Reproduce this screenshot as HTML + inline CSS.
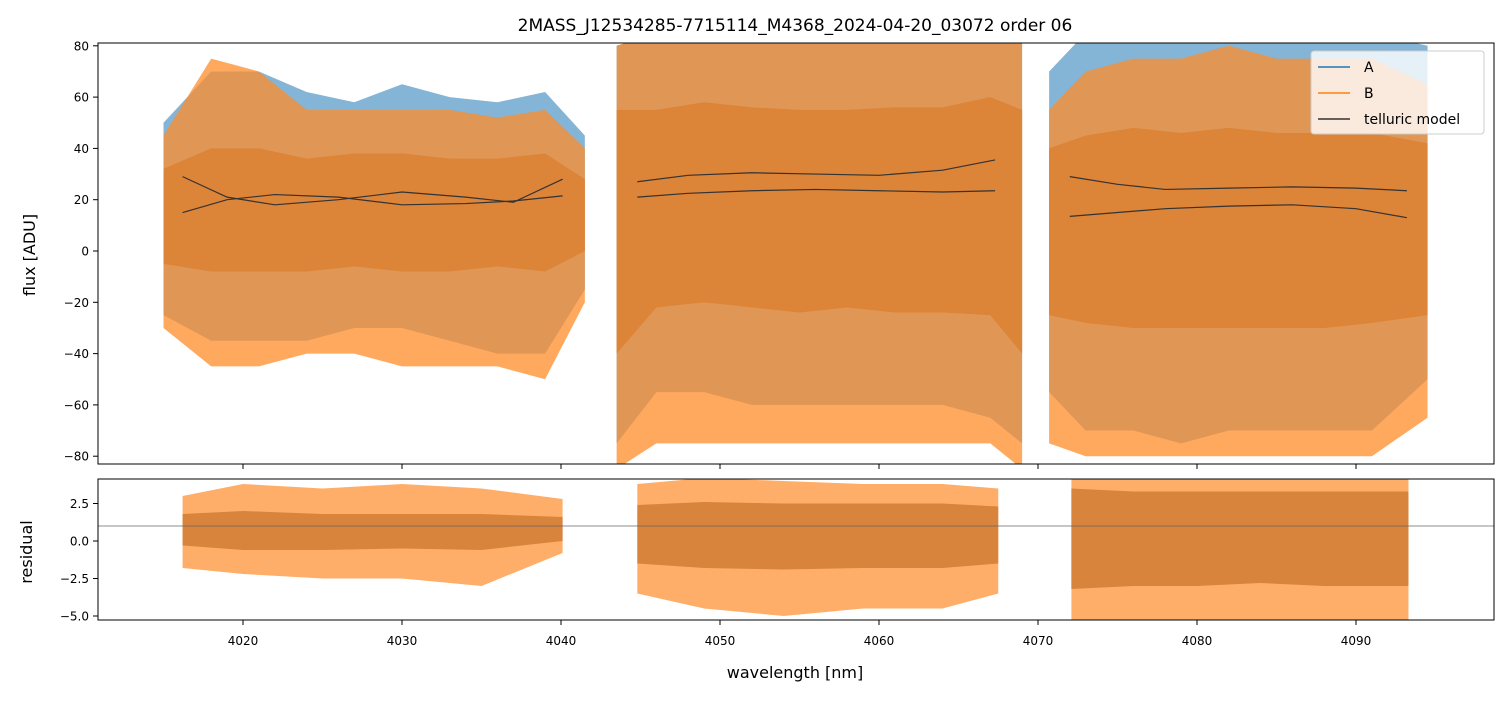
<!DOCTYPE html>
<html><head><meta charset="utf-8"><style>
body{margin:0;background:#fff}
text{font-family:"DejaVu Sans","Liberation Sans",sans-serif;fill:#000}
</style></head><body>
<svg id="c" width="1508" height="696" xmlns="http://www.w3.org/2000/svg">
<text x="795" y="31" font-size="17" text-anchor="middle">2MASS_J12534285-7715114_M4368_2024-04-20_03072  order 06</text>
<text transform="translate(35,255) rotate(-90)" font-size="16" text-anchor="middle">flux [ADU]</text>
<text transform="translate(32,552) rotate(-90)" font-size="16" text-anchor="middle">residual</text>
<text x="795" y="678" font-size="16" text-anchor="middle">wavelength [nm]</text>
<defs><clipPath id="cm"><rect x="98" y="43" width="1396" height="421"/></clipPath><clipPath id="cr"><rect x="98" y="479" width="1396" height="141"/></clipPath></defs>
<g id="main" clip-path="url(#cm)"></g>
<g id="res" clip-path="url(#cr)"></g>
<rect x="98" y="43" width="1396" height="421" fill="none" stroke="#000" stroke-width="1"/>
<rect x="98" y="479" width="1396" height="141" fill="none" stroke="#000" stroke-width="1"/>
<g id="ax"></g>
<g>
<rect x="1311" y="51" width="173" height="83" rx="3" fill="#fff" fill-opacity="0.8" stroke="#ccc"/>
<line x1="1318" y1="67" x2="1350" y2="67" stroke="#1f77b4" stroke-width="1.5"/>
<text x="1364" y="72" font-size="14">A</text>
<line x1="1318" y1="93" x2="1350" y2="93" stroke="#ff7f0e" stroke-width="1.5"/>
<text x="1364" y="98" font-size="14">B</text>
<line x1="1318" y1="119" x2="1350" y2="119" stroke="#333" stroke-width="1.5"/>
<text x="1364" y="124" font-size="14">telluric model</text>
</g>
</svg>
<script>
// axis ticks
const xTicks=[4020,4030,4040,4050,4060,4070,4080,4090];
const yTicks=[80,60,40,20,0,-20,-40,-60,-80];
const rTicks=[2.5,0.0,-2.5,-5.0];
// main segments: wavelength bins and envelopes
const segWl=[[4015,4018,4021,4024,4027,4030,4033,4036,4039,4041.5],[4043.5,4046,4049,4052,4055,4058,4061,4064,4067,4069],[4070.7,4073,4076,4079,4082,4085,4088,4091,4094.5]];
const aHi=[[50,70,70,62,58,65,60,58,62,45],[80,85,85,85,85,85,85,85,85,85],[70,85,85,85,85,85,85,85,80]];
const aLo=[[-25,-35,-35,-35,-30,-30,-35,-40,-40,-15],[-75,-55,-55,-60,-60,-60,-60,-60,-65,-75],[-55,-70,-70,-75,-70,-70,-70,-70,-50]];
const bHi=[[45,75,70,55,55,55,55,52,55,40],[80,85,85,85,85,85,85,85,85,85],[55,70,75,75,80,75,75,75,65]];
const bLo=[[-30,-45,-45,-40,-40,-45,-45,-45,-50,-20],[-85,-75,-75,-75,-75,-75,-75,-75,-75,-85],[-75,-80,-80,-80,-80,-80,-80,-80,-65]];
const coreHi=[[32,40,40,36,38,38,36,36,38,28],[55,55,58,56,55,55,56,56,60,55],[40,45,48,46,48,46,46,46,42]];
const coreLo=[[-5,-8,-8,-8,-6,-8,-8,-6,-8,0],[-40,-22,-20,-22,-24,-22,-24,-24,-25,-40],[-25,-28,-30,-30,-30,-30,-30,-28,-25]];
// telluric model curves
const tellWl=[[4016.2,4019,4022,4026,4030,4034,4037,4040.1],[4044.8,4048,4052,4056,4060,4064,4067.3],[4072,4075,4078,4082,4086,4090,4093.2]];
const tellA=[[29,21,18,20,23,21,19,28],[27,29.5,30.5,30,29.5,31.5,35.5],[29,26,24,24.5,25,24.5,23.5]];
const tellB=[[15,20,22,21,18,18.5,19.5,21.5],[21,22.5,23.5,24,23.5,23,23.5],[13.5,15,16.5,17.5,18,16.5,13]];
// residual envelopes
const resWl=[[4016.2,4020,4025,4030,4035,4040.1],[4044.8,4049,4054,4059,4064,4067.5],[4072.1,4076,4080,4084,4088,4093.3]];
const resHi=[[3,3.8,3.5,3.8,3.5,2.8],[3.8,4.2,4,3.8,3.8,3.5],[4.3,4.3,4.3,4.3,4.3,4.3]];
const resLo=[[-1.8,-2.2,-2.5,-2.5,-3,-0.8],[-3.5,-4.5,-5,-4.5,-4.5,-3.5],[-5.4,-5.4,-5.4,-5.4,-5.4,-5.4]];
const resCoreHi=[[1.8,2,1.8,1.8,1.8,1.6],[2.4,2.6,2.5,2.5,2.5,2.3],[3.5,3.3,3.3,3.3,3.3,3.3]];
const resCoreLo=[[-0.3,-0.6,-0.6,-0.5,-0.6,0],[-1.5,-1.8,-1.9,-1.8,-1.8,-1.5],[-3.2,-3,-3,-2.8,-3,-3]];
const refLine=1.0;

const NS='http://www.w3.org/2000/svg';
const X=v=>243+(v-4020)*15.9;
const Y=v=>251-v*51.3/20;
const R=v=>541-v*37.5/2.5;
function mk(t,a,p){const e=document.createElementNS(NS,t);for(const k in a)e.setAttribute(k,a[k]);p.appendChild(e);return e;}
function band(wl,hi,lo,fy){let pts=wl.map((w,i)=>X(w)+','+fy(hi[i]));for(let i=wl.length-1;i>=0;i--)pts.push(X(wl[i])+','+fy(lo[i]));return pts.join(' ');}
const main=document.getElementById('main'),res=document.getElementById('res'),ax=document.getElementById('ax');
segWl.forEach((wl,s)=>{
 let p=mk('polygon',{points:band(wl,aHi[s],aLo[s],Y),fill:'#1f77b4','fill-opacity':0.55},main);
 
 
 p=mk('polygon',{points:band(wl,bHi[s],bLo[s],Y),fill:'#ff8c2a','fill-opacity':0.75},main);
 
 
 p=mk('polygon',{points:band(wl,coreHi[s],coreLo[s],Y),fill:'#dc8438'},main);
 
 
});
tellWl.forEach((wl,s)=>{
 [tellA[s],tellB[s]].forEach(arr=>{
  const l=mk('polyline',{points:wl.map((w,i)=>X(w)+','+Y(arr[i])).join(' '),fill:'none',stroke:'#333','stroke-width':1.2},main);
  
  
 });
});
resWl.forEach((wl,s)=>{
 let p=mk('polygon',{points:band(wl,resHi[s],resLo[s],R),fill:'#ff8c2a','fill-opacity':0.7},res);
 
 
 p=mk('polygon',{points:band(wl,resCoreHi[s],resCoreLo[s],R),fill:'#d8843c'},res);
 
 
});
const rl=mk('line',{x1:98,x2:1494,y1:R(refLine),y2:R(refLine),stroke:'#666','stroke-width':0.8},res);


xTicks.forEach(t=>{
 const x=X(t);
 mk('line',{x1:x,x2:x,y1:464,y2:469,stroke:'#000'},ax);
 mk('line',{x1:x,x2:x,y1:620,y2:625,stroke:'#000'},ax);
 const tx=mk('text',{x:x,y:645,'font-size':12,'text-anchor':'middle'},ax);tx.textContent=t;
 
 
});
yTicks.forEach(t=>{
 const y=Y(t);
 mk('line',{x1:93,x2:98,y1:y,y2:y,stroke:'#000'},ax);
 const tx=mk('text',{x:89,y:y+4.5,'font-size':12,'text-anchor':'end'},ax);tx.textContent=t<0?'\u2212'+(-t):t;
 
 
});
rTicks.forEach(t=>{
 const y=R(t);
 mk('line',{x1:93,x2:98,y1:y,y2:y,stroke:'#000'},ax);
 const tx=mk('text',{x:89,y:y+4.5,'font-size':12,'text-anchor':'end'},ax);tx.textContent=(t<0?'\u2212':'')+Math.abs(t).toFixed(1);
 
 
});
</script>
</body></html>
